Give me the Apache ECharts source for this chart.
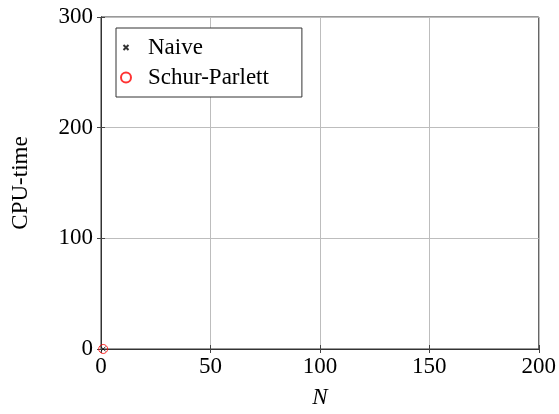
<!DOCTYPE html>
<html><head><meta charset="utf-8">
<script src="https://cdn.jsdelivr.net/npm/echarts@6/dist/echarts.min.js"></script>
<style>html,body{margin:0;padding:0;background:#fff}#c{width:559px;height:414px}</style>
</head><body><div id="c"></div>
<script>
const seriesNames = ['Naive', 'Schur-Parlett'];
const naiveN = [1];
const naiveTime = [0.01];
const schurN = [1];
const schurTime = [0.01];
const xTicks = [0, 50, 100, 150, 200];
const yTicks = [0, 100, 200, 300];

const font = 'Liberation Serif';
const fs = 23;
const crossPath = 'path://M0,0M10,10M2.5,2.5L7.5,7.5M7.5,2.5L2.5,7.5';
const tickStyle = {show: true, inside: true, length: 4, lineStyle: {color: '#444'}};
const chart = echarts.init(document.getElementById('c'), null, {renderer: 'canvas'});
chart.setOption({
  animation: false,
  backgroundColor: '#fff',
  grid: {left: 101, right: 20, top: 17, bottom: 63, show: true, borderColor: '#333', borderWidth: 1, backgroundColor: 'transparent'},
  legend: {
    orient: 'vertical', left: 116, top: 28,
    padding: [8, 33, 8, 4],
    borderColor: '#333', borderWidth: 1, backgroundColor: '#fff',
    itemGap: 7, itemWidth: 16, itemHeight: 10,
    textStyle: {fontFamily: font, fontSize: fs, color: '#000', padding: [0, 0, 0, 9]},
    data: [
      {name: seriesNames[0], icon: crossPath},
      {name: seriesNames[1], icon: 'circle'}
    ]
  },
  xAxis: [{
    type: 'value', min: 0, max: 200, interval: 50,
    name: 'N', nameLocation: 'middle', nameGap: 37,
    nameTextStyle: {fontFamily: font, fontSize: fs, fontStyle: 'italic', color: '#000'},
    axisLine: {show: true, lineStyle: {color: '#333'}},
    axisTick: tickStyle,
    axisLabel: {fontFamily: font, fontSize: fs, color: '#000', margin: 6, formatter: v => xTicks.includes(v) ? String(v) : ''},
    splitLine: {show: true, lineStyle: {color: '#bdbdbd', width: 1}}
  }, {
    type: 'value', position: 'top', min: 0, max: 200, interval: 50,
    axisLine: {show: true, lineStyle: {color: '#333'}},
    axisTick: tickStyle, axisLabel: {show: false}, splitLine: {show: false}
  }],
  yAxis: [{
    type: 'value', min: 0, max: 300, interval: 100,
    name: 'CPU-time', nameLocation: 'middle', nameGap: 69,
    nameTextStyle: {fontFamily: font, fontSize: fs, color: '#000'},
    axisLine: {show: true, lineStyle: {color: '#333'}},
    axisTick: tickStyle,
    axisLabel: {fontFamily: font, fontSize: fs, color: '#000', margin: 8, formatter: v => yTicks.includes(v) ? String(v) : ''},
    splitLine: {show: true, lineStyle: {color: '#bdbdbd', width: 1}}
  }, {
    type: 'value', position: 'right', min: 0, max: 300, interval: 100,
    axisLine: {show: true, lineStyle: {color: '#333'}},
    axisTick: tickStyle, axisLabel: {show: false}, splitLine: {show: false}
  }],
  series: [
    {
      name: seriesNames[0], type: 'scatter',
      symbol: crossPath, symbolSize: 10,
      itemStyle: {color: 'transparent', borderColor: '#000', borderWidth: 1},
      data: naiveN.map((n, i) => [n, naiveTime[i]]),
      z: 3
    },
    {
      name: seriesNames[1], type: 'scatter',
      symbol: 'circle', symbolSize: 9,
      itemStyle: {color: 'transparent', borderColor: '#ff0000', borderWidth: 1},
      data: schurN.map((n, i) => [n, schurTime[i]]),
      z: 4
    }
  ]
});
</script></body></html>
